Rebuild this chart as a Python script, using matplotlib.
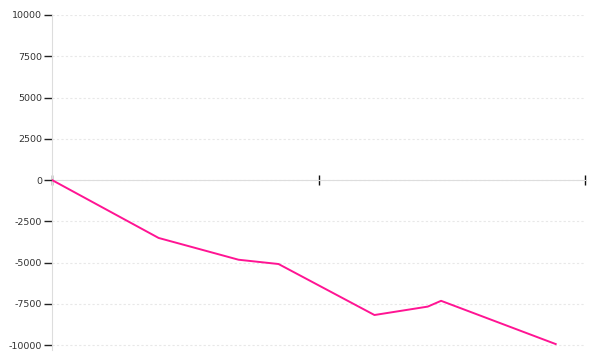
import matplotlib.pyplot as plt

# series values
x_vals = [0, 40, 70, 85, 121, 141, 146, 189]
y_vals = [0, -3510, -4830, -5090, -8180, -7670, -7320, -9940]
x_ticks = [0, 100, 200]
y_ticks = [-10000, -7500, -5000, -2500, 0, 2500, 5000, 7500, 10000]

fig = plt.figure(figsize=(6, 3.6), dpi=100)
ax = fig.add_axes([52 / 600, 10 / 360, 533 / 600, 335 / 360])

ax.plot(x_vals, y_vals, color='#ff1493', linewidth=1.4, zorder=3)

ax.set_xlim(0, 200)
ax.set_ylim(-10300, 10000)
ax.set_xticks(x_ticks)
ax.set_xticklabels([])
ax.set_yticks(y_ticks)
ax.set_yticklabels([str(v) for v in y_ticks])

# axes: x line at zero, light grey spines
for side in ['top', 'right']:
    ax.spines[side].set_visible(False)
ax.spines['bottom'].set_position(('data', 0))
ax.spines['bottom'].set_color('#dddddd')
ax.spines['bottom'].set_zorder(1)
ax.spines['left'].set_color('#dddddd')
ax.spines['left'].set_zorder(1)
ax.spines['left'].set_bounds(-10300, 10000)

ax.tick_params(axis='x', direction='inout', length=7, width=1, color='#111111')
ax.tick_params(axis='y', direction='out', length=6, width=1, color='#222222',
               labelsize=6.8, labelcolor='#333333', pad=1)

ax.yaxis.grid(True, linestyle=(0, (2, 2)), color='#e8e8e8', linewidth=0.8)
ax.set_axisbelow(True)

fig.savefig('out.png', dpi=100)
